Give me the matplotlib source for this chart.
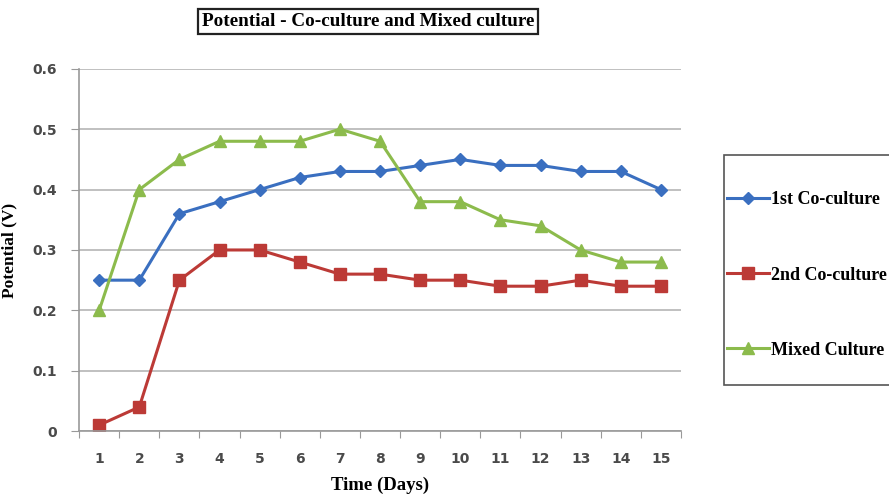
import matplotlib.pyplot as plt
from matplotlib.patches import Rectangle
from matplotlib.ticker import FixedLocator, NullFormatter

days = list(range(1, 16))
first_co = [0.25, 0.25, 0.36, 0.38, 0.40, 0.42, 0.43, 0.43, 0.44, 0.45, 0.44, 0.44, 0.43, 0.43, 0.40]
second_co = [0.01, 0.04, 0.25, 0.30, 0.30, 0.28, 0.26, 0.26, 0.25, 0.25, 0.24, 0.24, 0.25, 0.24, 0.24]
mixed = [0.20, 0.40, 0.45, 0.48, 0.48, 0.48, 0.50, 0.48, 0.38, 0.38, 0.35, 0.34, 0.30, 0.28, 0.28]
y_ticks = [0, 0.1, 0.2, 0.3, 0.4, 0.5, 0.6]
y_labels = ['0', '0.1', '0.2', '0.3', '0.4', '0.5', '0.6']

serif = 'Liberation Serif'
sans = 'DejaVu Sans'
tick_color = '#4A4A4A'

fig = plt.figure(figsize=(8.89, 4.95), dpi=100)
ax = fig.add_axes([0.089, 0.129, 0.677, 0.732])

ax.plot(days, first_co, color='#3A6FC0', lw=2.2, marker='D', ms=6, label='1st Co-culture')
ax.plot(days, second_co, color='#BC3A36', lw=2.2, marker='s', ms=8, label='2nd Co-culture')
ax.plot(days, mixed, color='#8CBB4C', lw=2.2, marker='^', ms=8, label='Mixed Culture')

ax.set_xlim(0.5, 15.5)
ax.set_ylim(0, 0.6)
ax.set_yticks(y_ticks)
ax.set_yticklabels(y_labels, fontfamily=sans, fontweight='bold', fontsize=10, color=tick_color)
ax.yaxis.grid(True, color='#B5B5B5', lw=1.2)
ax.set_axisbelow(True)

# category ticks sit between days, labels at the day itself
ax.xaxis.set_major_locator(FixedLocator([d + 0.5 for d in [0] + days]))
ax.xaxis.set_major_formatter(NullFormatter())
ax.xaxis.set_minor_locator(FixedLocator(days))
ax.set_xticklabels([str(d) for d in days], minor=True, fontfamily=sans, fontweight='bold',
                   fontsize=10, color=tick_color)
ax.tick_params(axis='x', which='major', length=5, color='#999999', direction='out')
ax.tick_params(axis='x', which='minor', length=0, pad=15)
ax.tick_params(axis='y', length=6, color='#999999', pad=10)

for side in ['top', 'right']:
    ax.spines[side].set_visible(False)
for side in ['left', 'bottom']:
    ax.spines[side].set_color('#999999')
    ax.spines[side].set_linewidth(1.2)

ax.set_xlabel('Time (Days)', fontfamily=serif, fontweight='bold', fontsize=13.5, labelpad=8)
ax.set_ylabel('Potential (V)', fontfamily=serif, fontweight='bold', fontsize=12.5)
ax.yaxis.set_label_coords(-0.103, 0.5)

fig.text(0.414, 0.957, 'Potential - Co-culture and Mixed culture', ha='center', va='center',
         fontfamily=serif, fontweight='bold', fontsize=13.8,
         bbox=dict(boxstyle='square,pad=0.22', fc='white', ec='#222222', lw=1.6))

# legend frame drawn on its own so the entries can sit close to its left edge
fig.patches.append(Rectangle((724 / 889, 1 - 385 / 495), 0.2, 230 / 495, transform=fig.transFigure,
                             fc='white', ec='#555555', lw=1.2, zorder=0))
leg = fig.legend(loc='center left', bbox_to_anchor=(727 / 889, 1 - 275 / 495), frameon=False,
                 prop={'family': serif, 'size': 13, 'weight': 'bold'}, labelspacing=3.22,
                 handlelength=2.3, handletextpad=0.15, borderpad=0, borderaxespad=0)

fig.savefig('out.png', dpi=100)
